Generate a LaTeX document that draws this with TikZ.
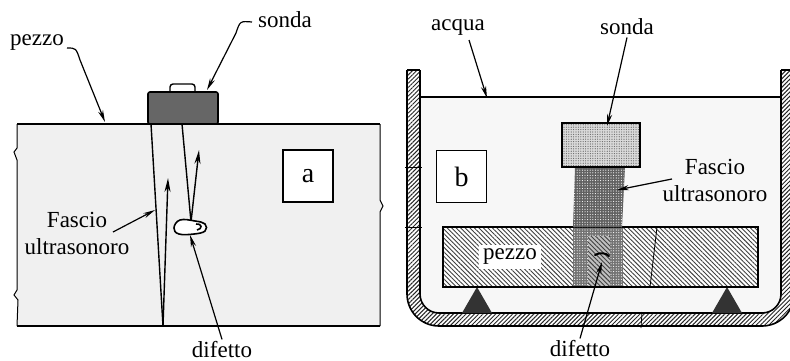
\documentclass[tikz,border=0pt]{standalone}
\usepackage{fontspec}
\setmainfont{Liberation Serif}
\usetikzlibrary{arrows.meta,patterns.meta}
\begin{document}
\begin{tikzpicture}[x=0.5pt,y=-0.5pt,
  lbl/.style={font=\fontsize{11.5}{13.5}\selectfont, inner sep=1pt, align=center},
  lead/.style={line width=0.6pt, -{Stealth[length=6pt,width=2.6pt]}},
  ray/.style={line width=0.7pt},
  rayup/.style={line width=0.7pt, -{Stealth[length=7pt,width=3pt]}},
  tag/.style={draw, line width=0.6pt, fill=white, minimum width=25pt, minimum height=26pt, inner sep=0pt, font=\fontsize{14}{16}\selectfont},
  wallhatch/.style={pattern={Lines[angle=45,distance=1.5pt,line width=0.5pt]}, pattern color=black!85},
  piecehatch/.style={pattern={Lines[angle=-45,distance=1.6pt,line width=0.45pt]}, pattern color=black!75},
  dotfill/.style={pattern={Dots[distance=1.3pt,radius=0.28pt]}, pattern color=white},
]
\useasboundingbox (0,0) rectangle (790,360);
\clip (0,0) rectangle (790,360);
\fill[white] (0,0) rectangle (790,360);

% ================= left view: contact probe on the piece =================
% piece with broken side edges
\fill[gray!12] (17,124) -- (380,124) -- (380,200) -- (383,206) -- (380,212) -- (380,326)
  -- (17,326) -- (17,290) -- (14,295) -- (18,300) -- (17,300) -- (17,160) -- (14,152) -- (17,148) -- cycle;
\draw[line width=0.9pt] (17,124) -- (380,124);
\draw[line width=0.9pt] (17,326) -- (380,326);
\draw[line width=0.5pt] (380,124) -- (380,200) -- (383,206) -- (380,212) -- (380,326);
\draw[line width=0.5pt] (17,124) -- (17,148) -- (14,152) -- (17,160) -- (17,290) -- (14,295) -- (18,300) -- (17,326);

% probe
\draw[line width=0.7pt, fill=white, rounded corners=1.5pt] (170,93) -- (170,84) -- (195,84) -- (195,93);
\draw[line width=0.8pt, fill=black!60, rounded corners=1pt] (148,124) rectangle (218,92);

% beam edges and echoes
\coordinate (b1top) at (151,124);
\coordinate (b1bot) at (163,326);
\coordinate (b2top) at (182,124);
\coordinate (b2bot) at (191,222);
\coordinate (echo1) at (168,178);
\coordinate (echo2) at (199,150);
\draw[ray] (b1top) -- (b1bot);
\draw[ray] (b2top) -- (b2bot);
\draw[rayup] (b1bot) -- (echo1);
\draw[rayup] (b2bot) -- (echo2);

% flaw
\draw[line width=0.8pt, fill=white] plot[smooth cycle, tension=0.7] coordinates
  {(174,228) (180,220) (195,221) (205,224) (205,231) (194,234) (179,234)};
\draw[line width=0.8pt] (196,224) .. controls (202,223) and (203,229) .. (197,230);
\coordinate (flawa) at (190,235);

% labels
\node[lbl] (pezzoa) at (37,43) {pezzo};
\node[lbl] (sondaa) at (285,20) {sonda};
\node[lbl] (fascioa) at (77,233) {Fascio\\ultrasonoro};
\node[lbl] (difettoa) at (222,350) {difetto};
\node[tag] (taga) at (308,176) {a};

\coordinate (pza0) at (67,48);
\coordinate (pza) at (105,122);
\coordinate (sda0) at (252,22);
\coordinate (sda) at (207,90);
\coordinate (fsa) at (155,210);
\coordinate (fsa0) at (113,232);
\draw[lead] (pza0) .. controls (76,48) .. (80,60) -- (pza);
\draw[lead] (sda0) .. controls (240,21) .. (236,33) -- (sda);
\draw[lead] (fsa0) -- (fsa);
\draw[lead] (difettoa.north) -- (flawa);

% ================= right view: immersion test in a tank =================
% water
\fill[gray!6] (420,97) -- (782,97) -- (782,294) .. controls (782,304.5) and (773.5,313) .. (763,313)
  -- (439,313) .. controls (428.5,313) and (420,304.5) .. (420,294) -- cycle;
\draw[line width=0.8pt] (420,97) -- (782,97);

% tank wall
\path[wallhatch] (407,70) -- (407,294) .. controls (407,311.7) and (421.3,326) .. (439,326)
  -- (762,326) .. controls (779.7,326) and (794,311.7) .. (794,294) -- (794,70)
  -- (781,70) -- (781,294) .. controls (781,304.5) and (772.5,313) .. (762,313)
  -- (439,313) .. controls (428.5,313) and (420,304.5) .. (420,294) -- (420,70) -- cycle;
\draw[line width=0.8pt] (407,70) -- (407,294) .. controls (407,311.7) and (421.3,326) .. (439,326)
  -- (762,326) .. controls (779.7,326) and (794,311.7) .. (794,294);
\draw[line width=0.8pt] (420,70) -- (420,294) .. controls (420,304.5) and (428.5,313) .. (439,313)
  -- (762,313) .. controls (772.5,313) and (781,304.5) .. (781,294) -- (781,70);
\draw[line width=0.6pt] (407,70) -- (420,70);
\draw[line width=0.6pt] (781,70) -- (794,70);
\draw[line width=0.4pt] (405,167) -- (422,167);
\draw[line width=0.4pt] (405,227) -- (422,227);
\draw[line width=0.4pt] (642,312) -- (641,328);

% supports
\fill[black!80] (462,313) -- (477,287) -- (492,313) -- cycle;
\fill[black!80] (712,313) -- (727,287) -- (742,313) -- cycle;

% piece
\fill[white] (443,227) rectangle (758,287);
\path[piecehatch] (443,227) rectangle (758,287);
% beam inside the piece
\fill[black!55] (573,227) rectangle (623,287);
\path[dotfill] (573,227) rectangle (623,287);
\fill[black!25] (588,236) rectangle (610,287);
\path[piecehatch] (588,236) rectangle (610,287);
\draw[line width=0.9pt] (443,227) rectangle (758,287);
\draw[line width=0.4pt] (657,227) -- (650,287);

% beam in water
\fill[black!62] (575,167) -- (625,167) -- (622,227) -- (573,227) -- cycle;
\path[dotfill] (575,167) -- (625,167) -- (622,227) -- (573,227) -- cycle;

% probe
\fill[gray!30] (562,123) rectangle (640,167);
\path[pattern={Dots[distance=1.2pt,radius=0.3pt]}, pattern color=black!60] (562,123) rectangle (640,167);
\draw[line width=1.1pt] (562,123) rectangle (640,167);

% flaw
\draw[line width=1pt, line cap=round] (595,255) .. controls (600,252) and (606,253) .. (609,256);
\coordinate (flawb) at (602,262);

% labels
\node[lbl, fill=white, inner sep=2pt] (pezzob) at (510,257) {pezzo};
\node[lbl] (acqua) at (458,27) {acqua};
\node[lbl] (sondab) at (627,27) {sonda};
\node[lbl] (fasciob) at (715,180) {Fascio\\ultrasonoro};
\node[lbl] (difettob) at (580,349) {difetto};
\node[tag] (tagb) at (461.5,176.5) {b};

\coordinate (acq0) at (469,40);
\coordinate (acq) at (487,98);
\coordinate (sdb) at (607,126);
\coordinate (fsb0) at (672,179);
\coordinate (fsb) at (617,190);
\draw[lead] (acq0) -- (acq);
\draw[lead] (sondab.south) -- (sdb);
\draw[lead] (fsb0) -- (fsb);
\draw[lead] (difettob.north) -- (flawb);
\end{tikzpicture}
\end{document}
